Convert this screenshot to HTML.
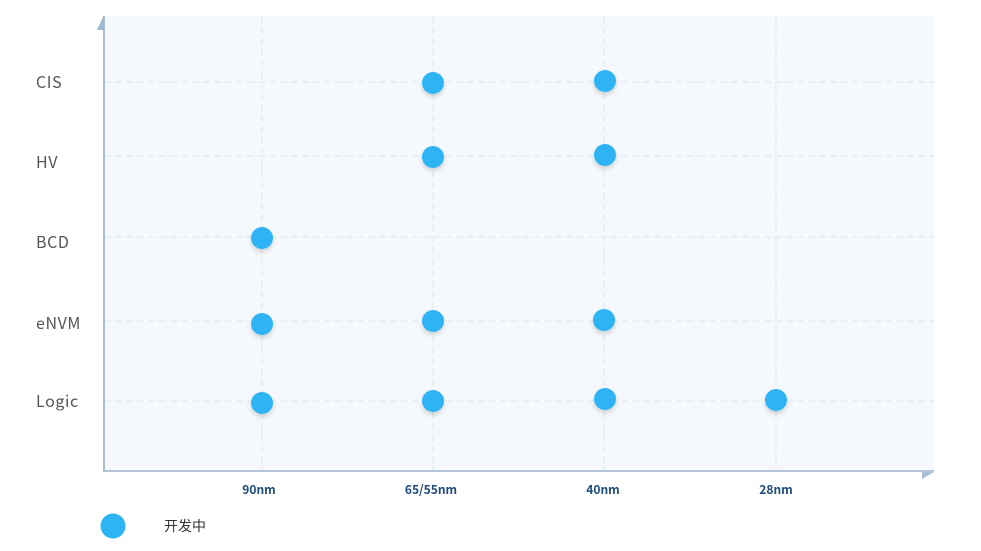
<!DOCTYPE html>
<html><head><meta charset="utf-8"><style>
body{margin:0;background:#fff;}
svg{display:block;font-family:"Liberation Sans","Noto Sans CJK SC",sans-serif;}
</style></head><body>
<svg width="981" height="551" viewBox="0 0 981 551">
<defs><filter id="s" x="-50%" y="-50%" width="200%" height="200%"><feDropShadow dx="0" dy="3" stdDeviation="2.5" flood-color="#000" flood-opacity="0.15"/></filter></defs>
<rect x="104" y="16" width="830" height="455" fill="#f5f8fc"/>
<g stroke="#dfe6ef" stroke-width="1" stroke-dasharray="7,4">
<line x1="104" y1="82" x2="934" y2="82"/><line x1="104" y1="156" x2="934" y2="156"/>
<line x1="104" y1="237" x2="934" y2="237"/><line x1="104" y1="321" x2="934" y2="321"/>
<line x1="104" y1="401" x2="934" y2="401"/>
<line x1="262" y1="16" x2="262" y2="470"/><line x1="433" y1="16" x2="433" y2="470"/>
<line x1="604" y1="16" x2="604" y2="470"/><line x1="776" y1="16" x2="776" y2="470"/>
</g>
<line x1="104" y1="16" x2="104" y2="471" stroke="#a9bdd3" stroke-width="2"/>
<line x1="103" y1="471" x2="934" y2="471" stroke="#b4c5d8" stroke-width="2"/>
<polygon points="104,15 104,30 97,30" fill="#9fb6cf"/>
<polygon points="922,472 934,472 922,479" fill="#a9bdd3"/>
<g fill="#555" font-size="16" letter-spacing="0.6" font-family="'Noto Sans CJK SC','Liberation Sans',sans-serif">
<text x="36" y="88">CIS</text><text x="36" y="168">HV</text><text x="36" y="248">BCD</text>
<text x="36" y="329">eNVM</text><text x="36" y="407">Logic</text>
</g>
<g fill="#1d4a7a" font-size="12" text-anchor="middle" font-weight="bold" font-family="'Noto Sans CJK SC','Liberation Sans',sans-serif">
<text x="259" y="494">90nm</text><text x="431" y="494">65/55nm</text>
<text x="603" y="494">40nm</text><text x="776" y="494">28nm</text>
</g>
<g fill="#2db4f4" filter="url(#s)">
<circle cx="433" cy="83" r="11"/><circle cx="605" cy="81" r="11"/>
<circle cx="433" cy="157" r="11"/><circle cx="605" cy="155" r="11"/>
<circle cx="262" cy="238" r="11"/>
<circle cx="262" cy="324" r="11"/><circle cx="433" cy="321" r="11"/><circle cx="604" cy="320" r="11"/>
<circle cx="262" cy="403" r="11"/><circle cx="433" cy="401" r="11"/><circle cx="605" cy="399" r="11"/><circle cx="776" cy="400" r="11"/>
</g>
<circle cx="113" cy="526" r="12.5" fill="#2db4f4"/>
<text x="164" y="531" font-size="14" fill="#333" font-family="'Noto Sans CJK SC',sans-serif">开发中</text>
</svg>
</body></html>
